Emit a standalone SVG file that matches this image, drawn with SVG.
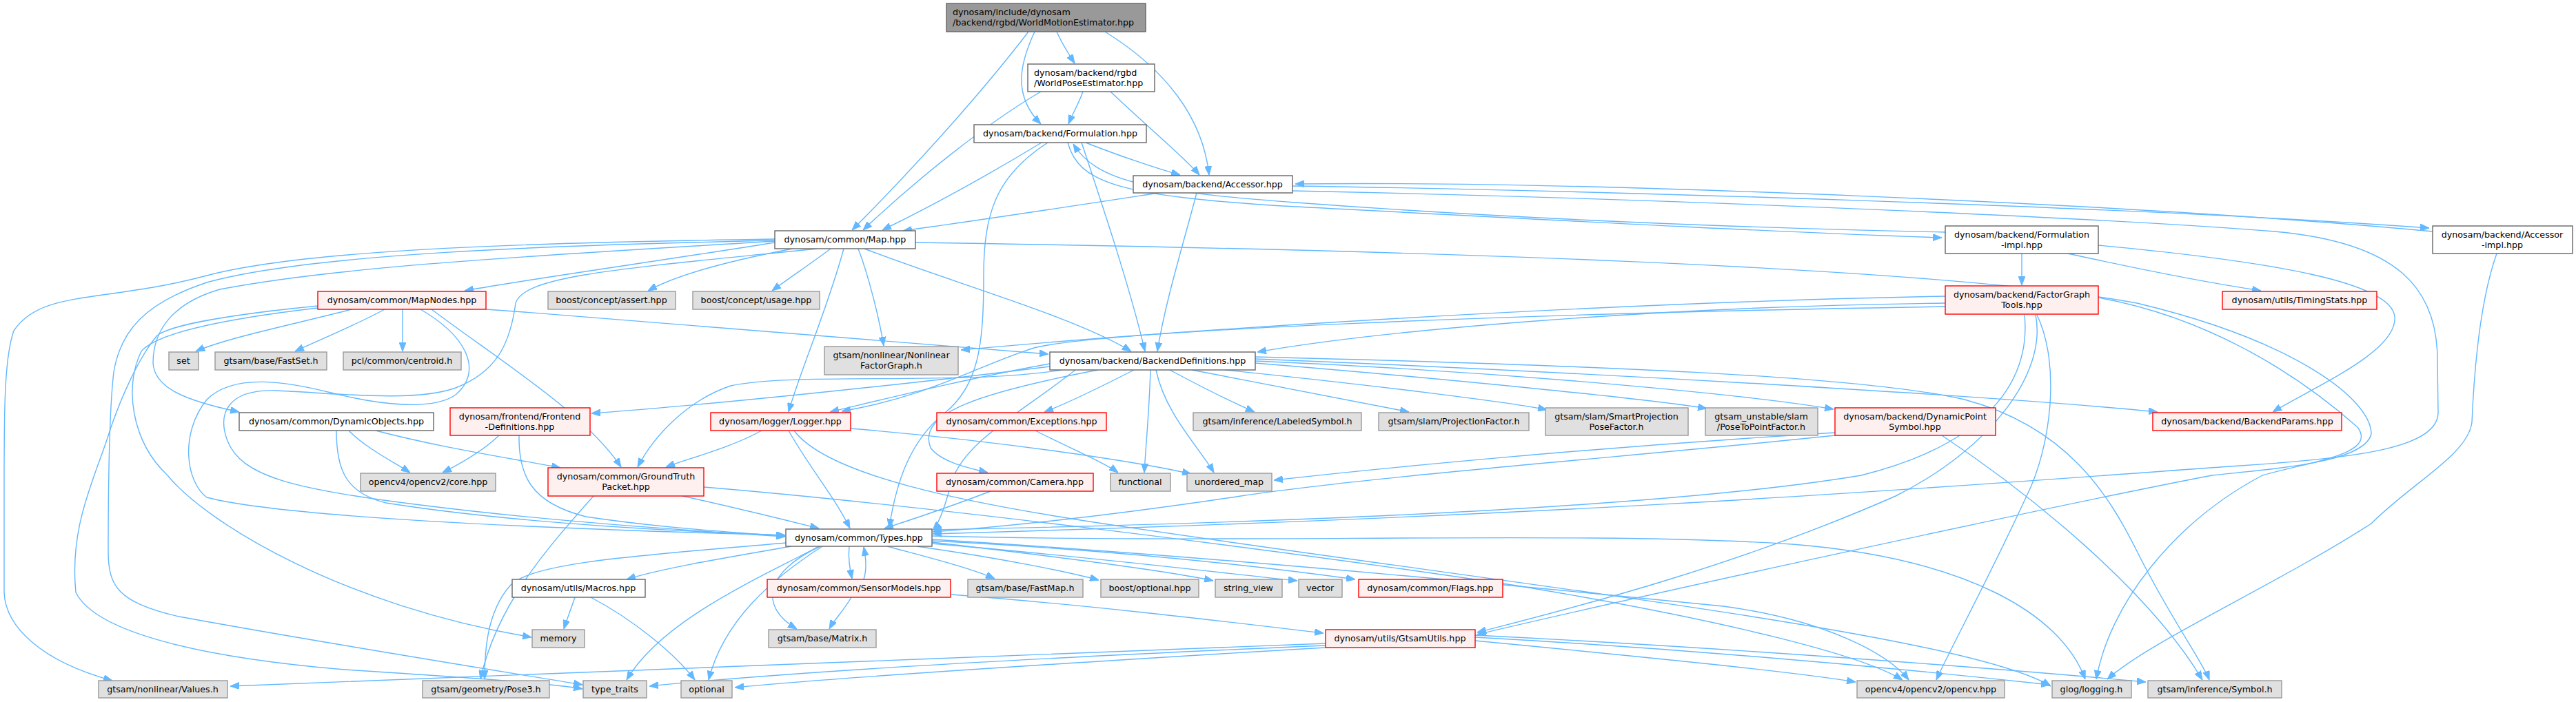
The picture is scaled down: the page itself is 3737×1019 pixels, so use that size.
<svg xmlns="http://www.w3.org/2000/svg" width="3737" height="1019" viewBox="0 0 3737 1019">
<style>
.e{fill:none;stroke:#63b8ff;stroke-width:1.4;marker-end:url(#a)}
.n rect{stroke-width:1.4}
.w rect{fill:#ffffff;stroke:#666666}
.g rect{fill:#e0e0e0;stroke:#999999}
.r rect{fill:#fff0f0;stroke:#ff0000}
.k rect{fill:#999999;stroke:#666666}
text{font-family:"DejaVu Sans","Liberation Sans",sans-serif;font-size:12.7px;fill:#000000;text-anchor:middle}
text.l{text-anchor:start}
</style>
<defs>
<marker id="a" viewBox="0 0 13 10" refX="13" refY="5" markerWidth="13" markerHeight="10" markerUnits="userSpaceOnUse" orient="auto">
<path d="M0,0 L13,5 L0,10 z" fill="#63b8ff" stroke="#63b8ff" stroke-width="1"/>
</marker>
</defs>
<rect width="3737" height="1019" fill="#ffffff"/>
<g id="edges">
<path class="e" d="M1533,46 C1540,62 1550,78 1559,92"/>
<path class="e" d="M1501,46 C1478,95 1470,140 1510,180"/>
<path class="e" d="M1603,46 C1690,100 1745,170 1754,254"/>
<path class="e" d="M1492,46 C1420,140 1320,250 1236,334"/>
<path class="e" d="M1510,133 C1430,180 1330,260 1252,334"/>
<path class="e" d="M1571,133 C1565,150 1556,165 1550,180"/>
<path class="e" d="M1611,133 C1660,180 1720,230 1740,254"/>
<path class="e" d="M1511,207 C1440,250 1350,300 1280,334"/>
<path class="e" d="M1520,207 C1445,255 1427,310 1427,400 C1427,500 1420,560 1370,600 C1320,640 1300,700 1290,766"/>
<path class="e" d="M1569,207 C1600,300 1640,420 1661,510"/>
<path class="e" d="M1575,207 C1620,225 1680,245 1712,254"/>
<path class="e" d="M1549,207 C1565,265 1620,285 1880,300 C2300,322 2600,338 2817,345"/>
<path class="e" d="M2822,337 C2500,330 2200,318 1880,294 C1660,278 1590,262 1557,209"/>
<path class="e" d="M1681,280 C1550,300 1420,320 1310,335"/>
<path class="e" d="M1736,280 C1715,360 1690,440 1679,510"/>
<path class="e" d="M1875,270 C2300,276 3100,300 3524,331"/>
<path class="e" d="M3529,336 C3100,296 2300,262 1879,267"/>
<path class="e" d="M1875,277 C2500,290 3100,320 3300,336 C3480,352 3535,420 3536,520 L3537,600 C3535,650 3420,665 3250,676 C2900,700 2400,745 1353,775"/>
<path class="e" d="M1124,352 C950,380 800,400 674,422"/>
<path class="e" d="M1150,361 C1050,380 980,400 940,422"/>
<path class="e" d="M1205,361 C1180,380 1150,400 1120,422"/>
<path class="e" d="M1245,361 C1260,400 1275,460 1282,502"/>
<path class="e" d="M1224,361 C1200,450 1160,540 1144,598"/>
<path class="e" d="M1254,361 C1380,410 1560,460 1641,510"/>
<path class="e" d="M1124,350 C800,370 500,385 319,420 C250,440 222,480 222,527 C224,560 260,580 347,598"/>
<path class="e" d="M1124,347 C800,352 450,360 300,400 C150,440 60,420 20,480 C6,520 6,600 6,700 L6,860 C8,910 60,960 163,988"/>
<path class="e" d="M1124,349 C800,356 450,368 300,410 C210,440 175,480 165,540 C158,600 157,700 157,800 C157,850 170,875 260,895 C450,930 700,970 845,994"/>
<path class="e" d="M1186,361 C900,390 760,400 748,440 C740,500 720,540 661,563 C600,585 480,570 400,567 C330,565 315,600 330,640 C350,690 420,710 610,733 C800,757 1000,770 1139,779"/>
<path class="e" d="M1328,352 C2000,362 2800,385 3100,440 C3330,495 3440,580 3440,630 C3430,672 3300,680 3209,690 C3000,730 2400,860 2143,921"/>
<path class="e" d="M510,449 C430,470 330,490 284,510"/>
<path class="e" d="M558,449 C520,470 460,495 428,510"/>
<path class="e" d="M584,449 L584,510"/>
<path class="e" d="M705,449 C1000,470 1300,495 1521,514"/>
<path class="e" d="M626,449 C720,520 850,600 901,678"/>
<path class="e" d="M610,449 C680,490 700,540 661,573 C630,595 560,590 480,570 C420,555 340,540 300,580 C260,630 270,700 300,722 C400,748 700,765 1139,777"/>
<path class="e" d="M461,444 C350,455 250,470 228,487 C200,520 175,580 161,620 C140,690 100,760 110,860 C140,920 300,955 500,972 C700,985 800,992 845,1000"/>
<path class="e" d="M461,447 C350,460 230,480 205,510 C180,560 190,640 243,690 C300,760 500,880 771,925"/>
<path class="e" d="M506,625 C530,650 570,670 595,686"/>
<path class="e" d="M545,625 C640,650 740,665 813,679"/>
<path class="e" d="M488,625 C488,680 500,715 560,730 C750,760 1000,772 1139,777"/>
<path class="e" d="M724,632 C700,655 670,672 642,686"/>
<path class="e" d="M753,632 C752,690 770,730 850,750 C950,765 1050,772 1139,778"/>
<path class="e" d="M1105,625 C1060,650 1000,665 966,678"/>
<path class="e" d="M1144,625 C1175,680 1210,720 1233,767"/>
<path class="e" d="M1234,622 C1450,640 1650,670 1728,688"/>
<path class="e" d="M1152,625 C1200,690 1400,730 1600,760 C2200,850 2850,920 2975,996"/>
<path class="e" d="M990,720 C1080,740 1140,755 1188,767"/>
<path class="e" d="M861,720 C790,800 720,880 697,986"/>
<path class="e" d="M1021,707 C1300,730 1800,790 2200,850 C2500,900 2700,950 2760,987"/>
<path class="e" d="M1523,528 C1400,550 1280,580 1204,598"/>
<path class="e" d="M1523,532 C1300,560 1000,590 858,600"/>
<path class="e" d="M1540,537 C1400,560 1150,540 1060,560 C1000,580 950,630 925,678"/>
<path class="e" d="M1560,537 C1480,600 1400,640 1380,700 C1370,740 1362,760 1353,770"/>
<path class="e" d="M1645,537 C1600,560 1550,585 1515,598"/>
<path class="e" d="M1669,537 C1667,600 1662,650 1660,686"/>
<path class="e" d="M1677,537 C1690,600 1740,650 1761,686"/>
<path class="e" d="M1697,537 C1740,560 1790,585 1820,598"/>
<path class="e" d="M1729,537 C1850,560 2000,590 2044,598"/>
<path class="e" d="M1777,537 C2000,560 2200,585 2244,595"/>
<path class="e" d="M1821,527 C2100,550 2400,580 2476,593"/>
<path class="e" d="M1821,524 C2200,540 2550,575 2660,594"/>
<path class="e" d="M1821,521 C2300,540 2900,575 3130,598"/>
<path class="e" d="M1821,518 C2300,530 2700,545 2850,580 C3000,620 3060,720 3100,800 C3150,900 3195,960 3205,987"/>
<path class="e" d="M1593,537 C1420,570 1330,600 1350,650 C1365,670 1400,678 1433,686"/>
<path class="e" d="M1502,625 C1550,650 1600,670 1622,686"/>
<path class="e" d="M1437,713 C1380,735 1320,755 1283,767"/>
<path class="e" d="M1232,793 C1230,810 1233,825 1236,840"/>
<path class="e" d="M1253,841 C1258,825 1256,810 1253,794"/>
<path class="e" d="M1148,793 C1050,810 960,825 909,841"/>
<path class="e" d="M1140,788 C950,805 770,815 740,850 C705,890 703,950 703,986"/>
<path class="e" d="M1188,793 C1100,840 960,900 909,987"/>
<path class="e" d="M1193,793 C1120,840 1050,900 1028,987"/>
<path class="e" d="M1190,793 C1110,830 1100,880 1156,913"/>
<path class="e" d="M1287,793 C1350,810 1410,825 1443,840"/>
<path class="e" d="M1330,793 C1450,810 1550,830 1594,842"/>
<path class="e" d="M1352,787 C1550,810 1700,830 1760,843"/>
<path class="e" d="M1352,789 C1600,810 1800,835 1882,843"/>
<path class="e" d="M1352,785 C1650,800 1850,825 1966,841"/>
<path class="e" d="M1352,783 C1800,810 2300,860 2500,880 C2650,900 2740,950 2769,987"/>
<path class="e" d="M1352,778 C1800,790 2300,770 2600,790 C2850,810 2990,890 3025,986"/>
<path class="e" d="M1235,867 C1225,885 1210,900 1203,913"/>
<path class="e" d="M1380,863 C1600,880 1800,905 1920,919"/>
<path class="e" d="M834,867 C828,885 822,900 818,913"/>
<path class="e" d="M857,867 C920,900 980,950 1008,987"/>
<path class="e" d="M1923,934 C1400,955 700,980 334,996"/>
<path class="e" d="M1923,937 C1500,955 1150,975 942,996"/>
<path class="e" d="M1923,940 C1500,965 1200,985 1066,998"/>
<path class="e" d="M2140,922 C2500,940 2900,970 3113,990"/>
<path class="e" d="M2140,925 C2500,945 2800,975 2974,994"/>
<path class="e" d="M2140,930 C2400,955 2600,975 2692,990"/>
<path class="e" d="M2933,368 L2933,414"/>
<path class="e" d="M3000,368 C3100,390 3200,410 3280,422"/>
<path class="e" d="M3044,356 C3300,380 3470,410 3474,460 C3478,510 3360,560 3297,598"/>
<path class="e" d="M3622,368 C3600,430 3590,520 3586,613 C3580,660 3500,700 3440,760 C3300,850 3120,930 3057,986"/>
<path class="e" d="M2822,430 C2300,440 1700,480 1394,508"/>
<path class="e" d="M2822,440 C2400,445 2000,480 1824,511"/>
<path class="e" d="M2822,445 C2200,455 1600,480 1500,505 C1420,530 1350,575 1221,597"/>
<path class="e" d="M2937,457 C2945,540 2900,640 2700,690 C2400,740 1800,760 1353,769"/>
<path class="e" d="M2953,457 C2970,540 2890,650 2750,720 C2500,830 2250,890 2143,918"/>
<path class="e" d="M2955,457 C2990,530 2975,650 2940,720 C2880,850 2830,940 2809,987"/>
<path class="e" d="M3044,432 C3200,460 3330,540 3420,620 C3450,660 3350,670 3282,690 C3150,760 3060,880 3041,986"/>
<path class="e" d="M2662,628 C2300,650 2000,680 1848,697"/>
<path class="e" d="M2662,632 C2400,660 2000,690 1800,720 C1600,750 1450,765 1353,772"/>
<path class="e" d="M2817,632 C2950,720 3120,860 3195,987"/>
</g>
<g id="n1" class="n k"><rect x="1373" y="5" width="289" height="41"/><text class="l" x="1382" y="22">dynosam/include/dynosam</text><text class="l" x="1382" y="37">/backend/rgbd/WorldMotionEstimator.hpp</text></g>
<g id="n2" class="n w"><rect x="1491" y="93" width="184" height="40"/><text class="l" x="1500" y="110">dynosam/backend/rgbd</text><text class="l" x="1500" y="125">/WorldPoseEstimator.hpp</text></g>
<g id="n3" class="n w"><rect x="1413" y="181" width="250" height="26"/><text x="1538" y="198">dynosam/backend/Formulation.hpp</text></g>
<g id="n4" class="n w"><rect x="1644" y="255" width="231" height="25"/><text x="1759" y="272">dynosam/backend/Accessor.hpp</text></g>
<g id="n5" class="n w"><rect x="1124" y="335" width="204" height="26"/><text x="1226" y="352">dynosam/common/Map.hpp</text></g>
<g id="n6" class="n w"><rect x="2822" y="328" width="222" height="40"/><text x="2933" y="345">dynosam/backend/Formulation</text><text x="2933" y="360">-impl.hpp</text></g>
<g id="n7" class="n w"><rect x="3529" y="328" width="203" height="40"/><text x="3630" y="345">dynosam/backend/Accessor</text><text x="3630" y="360">-impl.hpp</text></g>
<g id="n8" class="n r"><rect x="461" y="423" width="244" height="26"/><text x="583" y="440">dynosam/common/MapNodes.hpp</text></g>
<g id="n9" class="n g"><rect x="795" y="423" width="185" height="26"/><text x="887" y="440">boost/concept/assert.hpp</text></g>
<g id="n10" class="n g"><rect x="1005" y="423" width="184" height="26"/><text x="1097" y="440">boost/concept/usage.hpp</text></g>
<g id="n11" class="n r"><rect x="2822" y="415" width="222" height="41"/><text x="2933" y="432">dynosam/backend/FactorGraph</text><text x="2933" y="447">Tools.hpp</text></g>
<g id="n12" class="n r"><rect x="3224" y="423" width="224" height="26"/><text x="3336" y="440">dynosam/utils/TimingStats.hpp</text></g>
<g id="n13" class="n g"><rect x="245" y="511" width="43" height="26"/><text x="266" y="528">set</text></g>
<g id="n14" class="n g"><rect x="312" y="511" width="162" height="26"/><text x="393" y="528">gtsam/base/FastSet.h</text></g>
<g id="n15" class="n g"><rect x="498" y="511" width="171" height="26"/><text x="583" y="528">pcl/common/centroid.h</text></g>
<g id="n16" class="n g"><rect x="1196" y="503" width="194" height="41"/><text x="1293" y="520">gtsam/nonlinear/Nonlinear</text><text x="1293" y="535">FactorGraph.h</text></g>
<g id="n17" class="n w"><rect x="1523" y="511" width="298" height="26"/><text x="1672" y="528">dynosam/backend/BackendDefinitions.hpp</text></g>
<g id="n18" class="n w"><rect x="347" y="599" width="282" height="26"/><text x="488" y="616">dynosam/common/DynamicObjects.hpp</text></g>
<g id="n19" class="n r"><rect x="653" y="592" width="203" height="40"/><text x="754" y="609">dynosam/frontend/Frontend</text><text x="754" y="624">-Definitions.hpp</text></g>
<g id="n20" class="n r"><rect x="1031" y="599" width="203" height="26"/><text x="1132" y="616">dynosam/logger/Logger.hpp</text></g>
<g id="n21" class="n r"><rect x="1359" y="599" width="246" height="26"/><text x="1482" y="616">dynosam/common/Exceptions.hpp</text></g>
<g id="n22" class="n g"><rect x="1731" y="599" width="244" height="26"/><text x="1853" y="616">gtsam/inference/LabeledSymbol.h</text></g>
<g id="n23" class="n g"><rect x="2000" y="599" width="218" height="26"/><text x="2109" y="616">gtsam/slam/ProjectionFactor.h</text></g>
<g id="n24" class="n g"><rect x="2242" y="592" width="207" height="40"/><text x="2345" y="609">gtsam/slam/SmartProjection</text><text x="2345" y="624">PoseFactor.h</text></g>
<g id="n25" class="n g"><rect x="2474" y="592" width="163" height="40"/><text x="2555" y="609">gtsam_unstable/slam</text><text x="2555" y="624">/PoseToPointFactor.h</text></g>
<g id="n26" class="n r"><rect x="2662" y="592" width="233" height="40"/><text x="2778" y="609">dynosam/backend/DynamicPoint</text><text x="2778" y="624">Symbol.hpp</text></g>
<g id="n27" class="n r"><rect x="3123" y="599" width="274" height="26"/><text x="3260" y="616">dynosam/backend/BackendParams.hpp</text></g>
<g id="n28" class="n g"><rect x="523" y="687" width="196" height="26"/><text x="621" y="704">opencv4/opencv2/core.hpp</text></g>
<g id="n29" class="n r"><rect x="795" y="679" width="226" height="41"/><text x="908" y="696">dynosam/common/GroundTruth</text><text x="908" y="711">Packet.hpp</text></g>
<g id="n30" class="n r"><rect x="1359" y="687" width="227" height="26"/><text x="1472" y="704">dynosam/common/Camera.hpp</text></g>
<g id="n31" class="n g"><rect x="1611" y="687" width="87" height="26"/><text x="1654" y="704">functional</text></g>
<g id="n32" class="n g"><rect x="1722" y="687" width="123" height="26"/><text x="1783" y="704">unordered_map</text></g>
<g id="n33" class="n w"><rect x="1140" y="768" width="212" height="25"/><text x="1246" y="785">dynosam/common/Types.hpp</text></g>
<g id="n34" class="n w"><rect x="743" y="841" width="193" height="26"/><text x="839" y="858">dynosam/utils/Macros.hpp</text></g>
<g id="n35" class="n r"><rect x="1113" y="841" width="266" height="26"/><text x="1246" y="858">dynosam/common/SensorModels.hpp</text></g>
<g id="n36" class="n g"><rect x="1404" y="841" width="167" height="26"/><text x="1487" y="858">gtsam/base/FastMap.h</text></g>
<g id="n37" class="n g"><rect x="1597" y="841" width="142" height="26"/><text x="1668" y="858">boost/optional.hpp</text></g>
<g id="n38" class="n g"><rect x="1763" y="841" width="97" height="26"/><text x="1811" y="858">string_view</text></g>
<g id="n39" class="n g"><rect x="1884" y="841" width="63" height="26"/><text x="1915" y="858">vector</text></g>
<g id="n40" class="n r"><rect x="1971" y="841" width="209" height="26"/><text x="2075" y="858">dynosam/common/Flags.hpp</text></g>
<g id="n41" class="n g"><rect x="772" y="914" width="76" height="26"/><text x="810" y="931">memory</text></g>
<g id="n42" class="n g"><rect x="1115" y="914" width="156" height="26"/><text x="1193" y="931">gtsam/base/Matrix.h</text></g>
<g id="n43" class="n r"><rect x="1923" y="914" width="217" height="26"/><text x="2031" y="931">dynosam/utils/GtsamUtils.hpp</text></g>
<g id="n44" class="n g"><rect x="143" y="988" width="187" height="25"/><text x="236" y="1005">gtsam/nonlinear/Values.h</text></g>
<g id="n45" class="n g"><rect x="613" y="988" width="184" height="25"/><text x="705" y="1005">gtsam/geometry/Pose3.h</text></g>
<g id="n46" class="n g"><rect x="846" y="988" width="92" height="25"/><text x="892" y="1005">type_traits</text></g>
<g id="n47" class="n g"><rect x="988" y="988" width="74" height="25"/><text x="1025" y="1005">optional</text></g>
<g id="n48" class="n g"><rect x="2694" y="988" width="214" height="25"/><text x="2801" y="1005">opencv4/opencv2/opencv.hpp</text></g>
<g id="n49" class="n g"><rect x="2977" y="988" width="115" height="25"/><text x="3034" y="1005">glog/logging.h</text></g>
<g id="n50" class="n g"><rect x="3116" y="988" width="194" height="25"/><text x="3213" y="1005">gtsam/inference/Symbol.h</text></g>
</svg>
